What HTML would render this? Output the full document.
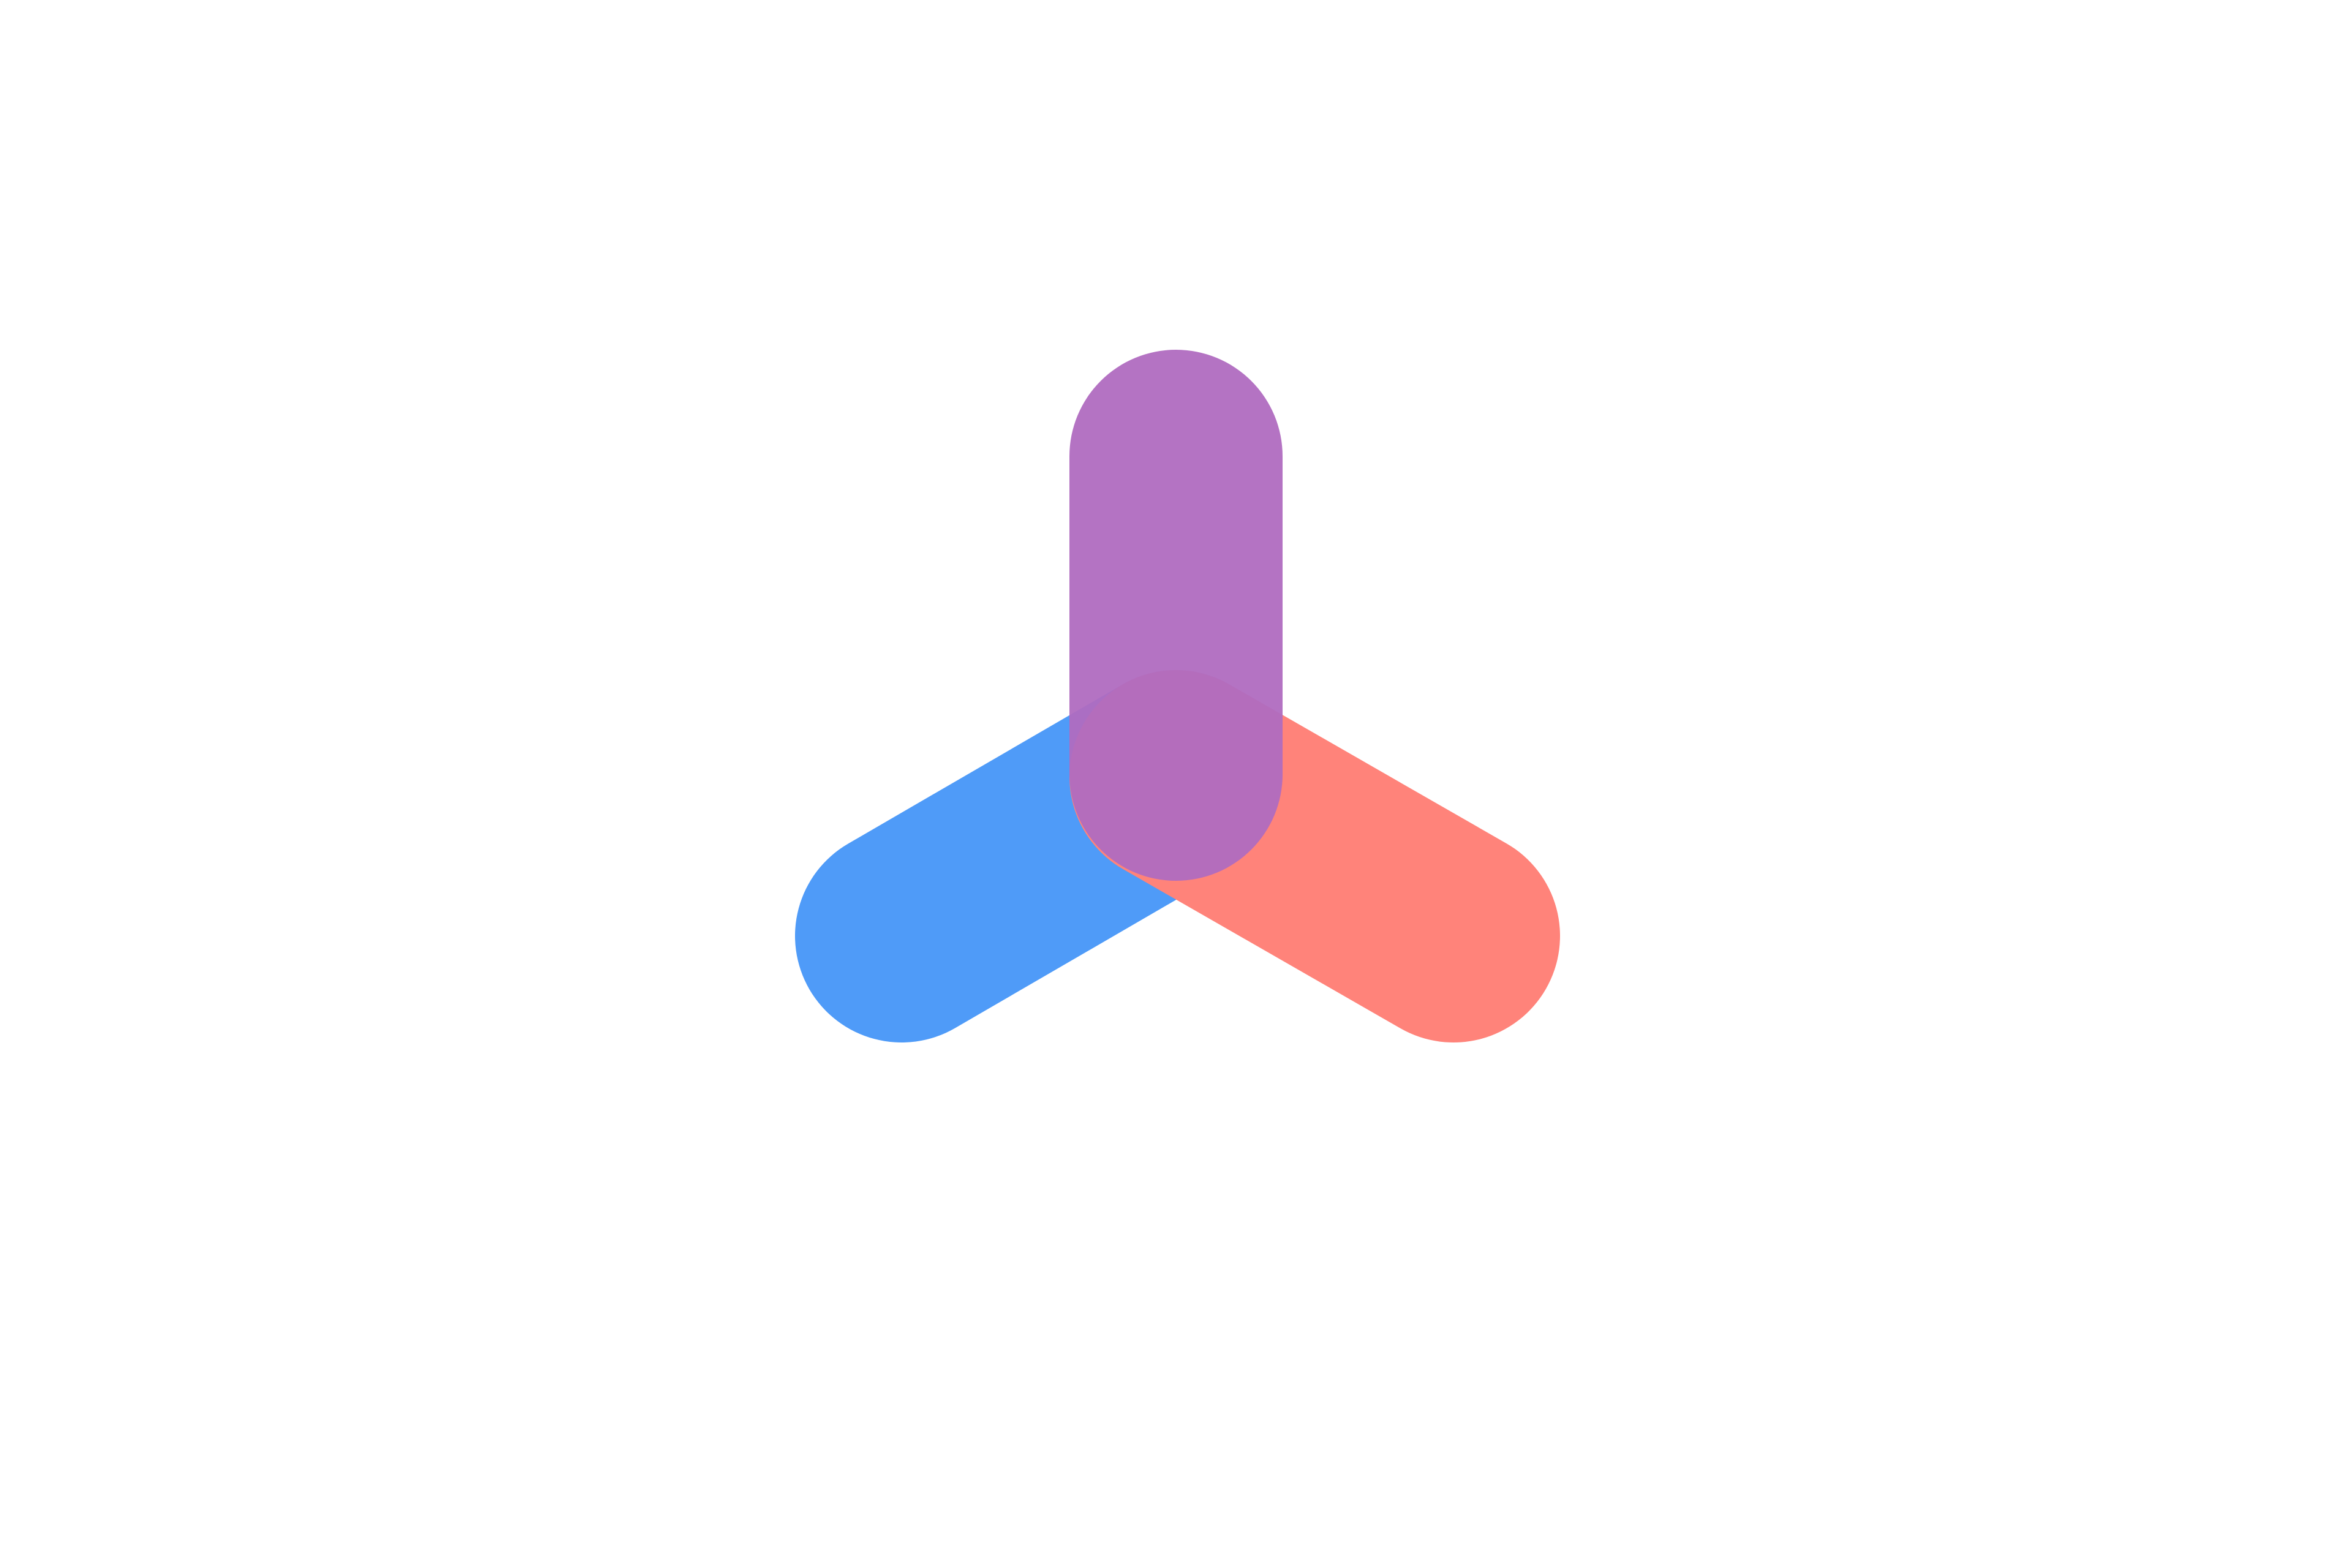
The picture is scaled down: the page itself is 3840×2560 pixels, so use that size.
<!DOCTYPE html>
<html><head><meta charset="utf-8"><style>html,body{margin:0;padding:0;background:#fff}svg{display:block}</style></head>
<body>
<svg width="3840" height="2560" viewBox="0 0 3840 2560" xmlns="http://www.w3.org/2000/svg">
<rect width="3840" height="2560" fill="#fff"/>
<g stroke-linecap="round" stroke-width="348" fill="none">
<line x1="1472" y1="1528" x2="1920" y2="1268" stroke="#4F9BF8"/>
<line x1="2373" y1="1528" x2="1920" y2="1268" stroke="#FF837A"/>
<line x1="1920" y1="745" x2="1920" y2="1264" stroke="#B06CC0" stroke-opacity="0.95"/>
</g>
</svg>
</body></html>
